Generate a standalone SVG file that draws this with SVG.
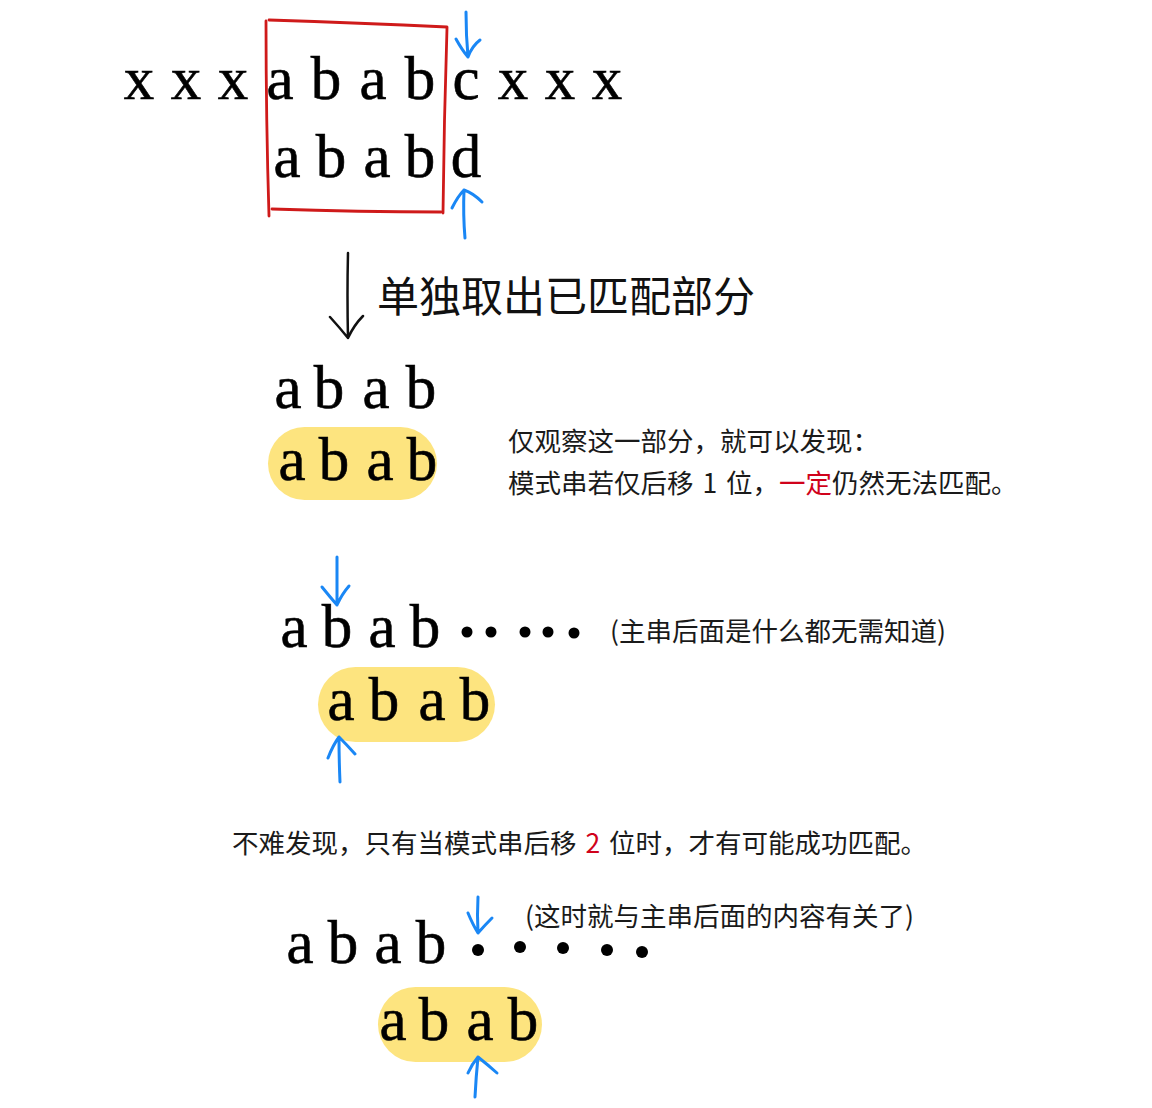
<svg xmlns="http://www.w3.org/2000/svg" width="1152" height="1108" viewBox="0 0 1152 1108">
<style>
.s{font-family:"Liberation Serif","Times New Roman",serif;font-size:61px;fill:#000;stroke:#000;stroke-width:0.6;text-anchor:middle}
.c{font-family:"Noto Sans CJK SC","Noto Sans",sans-serif;font-size:26.5px;fill:#1a1a1a}
.red{fill:#d0021b}
.pill{fill:#fde47f}
.blue{fill:none;stroke:#1a87f5;stroke-width:3;stroke-linecap:round;stroke-linejoin:round}
.blk{fill:none;stroke:#111;stroke-width:2.5;stroke-linecap:round;stroke-linejoin:round}
.box{fill:none;stroke:#cf1a1a;stroke-width:2.8;stroke-linecap:round;stroke-linejoin:round}
</style>
<rect width="1152" height="1108" fill="#fff"/>

<g id="row1">
<text class="s" x="139" y="99">x</text>
<text class="s" x="186" y="99">x</text>
<text class="s" x="233" y="99">x</text>
<text class="s" x="280" y="99">a</text>
<text class="s" x="326" y="99">b</text>
<text class="s" x="373" y="99">a</text>
<text class="s" x="420" y="99">b</text>
<text class="s" x="466" y="99">c</text>
<text class="s" x="513" y="99">x</text>
<text class="s" x="560" y="99">x</text>
<text class="s" x="607" y="99">x</text>
</g>
<g id="row2">
<text class="s" x="287" y="177">a</text>
<text class="s" x="331" y="177">b</text>
<text class="s" x="377" y="177">a</text>
<text class="s" x="420" y="177">b</text>
<text class="s" x="466" y="177">d</text>
</g>
<g id="matched-box">
<path class="box" d="M266,21 Q266,120 269,216"/>
<path class="box" d="M269,20 Q360,23 447,27"/>
<path class="box" d="M447,28 Q444,120 443,213"/>
<path class="box" d="M272,209 Q360,212 441,212"/>
</g>

<g id="label-extract">
<text class="c" x="377" y="312" style="font-size:42px;fill:#111">单独取出已匹配部分</text>
</g>

<g id="row3">
<text class="s" x="288" y="408">a</text>
<text class="s" x="329" y="408">b</text>
<text class="s" x="376" y="408">a</text>
<text class="s" x="421" y="408">b</text>
</g>
<g id="pill1">
<rect class="pill" x="268" y="427" width="169" height="73" rx="36.5"/>
<text class="s" x="292" y="480">a</text>
<text class="s" x="334" y="480">b</text>
<text class="s" x="380" y="480">a</text>
<text class="s" x="422" y="480">b</text>
</g>
<g id="note1">
<text class="c" x="508" y="451">仅观察这一部分，就可以发现：</text>
<text class="c" x="508" y="493">模式串若仅后移 <tspan dx="3">1</tspan> <tspan dx="3">位，</tspan><tspan class="red">一定</tspan>仍然无法匹配。</text>
</g>

<g id="row4">
<text class="s" x="294" y="647">a</text>
<text class="s" x="337" y="647">b</text>
<text class="s" x="382" y="647">a</text>
<text class="s" x="425" y="647">b</text>
<circle cx="467" cy="632" r="5.5"/>
<circle cx="491" cy="632" r="5.5"/>
<circle cx="525" cy="632" r="5.5"/>
<circle cx="548" cy="632" r="5.5"/>
<circle cx="574" cy="633" r="5.5"/>
<text class="c" x="610" y="641">(主串后面是什么都无需知道)</text>
</g>
<g id="pill2">
<rect class="pill" x="318" y="667" width="177" height="75" rx="37.5"/>
<text class="s" x="341" y="720">a</text>
<text class="s" x="384" y="720">b</text>
<text class="s" x="432" y="720">a</text>
<text class="s" x="475" y="720">b</text>
</g>

<g id="note2">
<text class="c" x="232" y="853">不难发现，只有当模式串后移 <tspan class="red" dx="3">2</tspan> <tspan dx="3">位时，才有可能成功匹配。</tspan></text>
</g>

<g id="row5">
<text class="s" x="300" y="963">a</text>
<text class="s" x="343" y="963">b</text>
<text class="s" x="388" y="963">a</text>
<text class="s" x="431" y="963">b</text>
<circle cx="478" cy="950" r="6"/>
<circle cx="520" cy="947" r="6"/>
<circle cx="563" cy="948" r="6"/>
<circle cx="607" cy="950" r="6"/>
<circle cx="642" cy="952" r="6"/>
<text class="c" x="525" y="926">(这时就与主串后面的内容有关了)</text>
</g>
<g id="pill3">
<rect class="pill" x="378" y="987" width="164" height="75" rx="37.5"/>
<text class="s" x="393" y="1040">a</text>
<text class="s" x="434" y="1040">b</text>
<text class="s" x="480" y="1040">a</text>
<text class="s" x="523" y="1040">b</text>
</g>

<g id="connectors">
<path class="blue" d="M466,12 Q466,35 468,57 M456,39 Q462,50 468,57 Q472,46 480,40"/>
<path class="blue" d="M465,238 Q463,215 464,190 M452,208 Q458,196 464,190 Q473,193 482,202"/>
<path class="blk" d="M348,253 Q347,295 348,338 M330,317 Q340,328 348,338 Q354,325 363,316"/>
<path class="blue" d="M337,557 L337,605 M322,587 Q330,597 337,605 Q342,594 349,586"/>
<path class="blue" d="M340,782 Q339,760 339,737 M328,758 Q333,745 339,737 Q347,745 355,754"/>
<path class="blue" d="M478,897 Q477,915 478,933 M468,913 Q473,925 478,933 Q485,925 492,918"/>
<path class="blue" d="M475,1097 Q476,1077 478,1057 M468,1073 Q472,1064 478,1057 Q488,1065 497,1073"/>
</g>
</svg>
